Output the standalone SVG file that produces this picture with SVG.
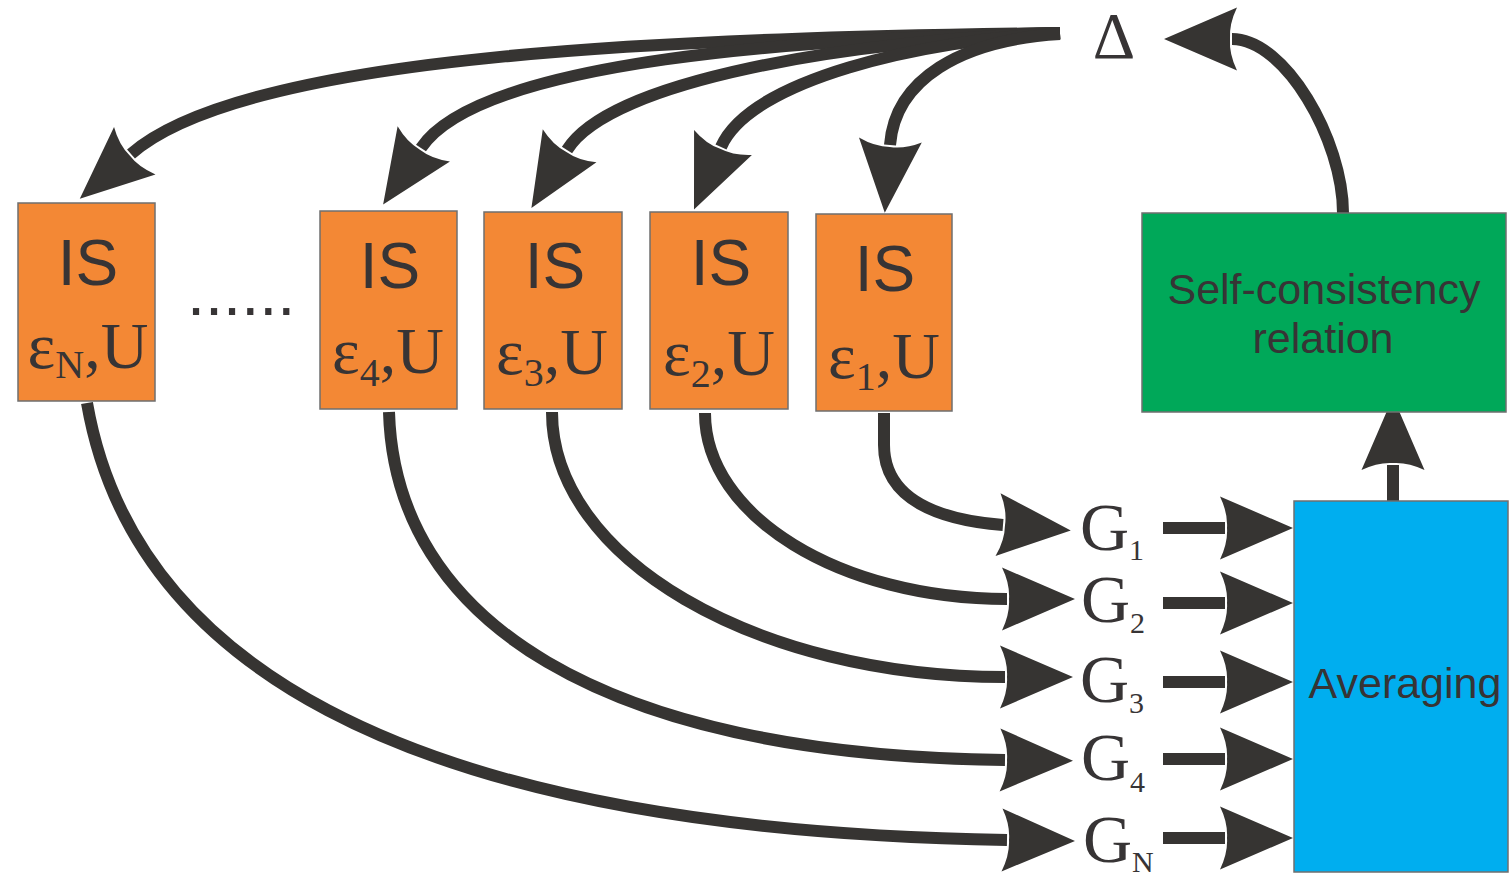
<svg xmlns="http://www.w3.org/2000/svg" width="1509" height="875" viewBox="0 0 1509 875">
<style>
.box{stroke:#6f6f6f;stroke-width:1.5}
.or{fill:#F38835}
.gr{fill:#00A859}
.bl{fill:#00AEEF}
.ar{fill:none;stroke:#363432;stroke-width:12;marker-end:url(#ah)}
.is{font-family:"Liberation Sans",Arial,sans-serif;font-size:64px;fill:#373435;text-anchor:middle}
.eps{font-family:"Liberation Serif","Times New Roman",serif;font-size:66px;fill:#373435;text-anchor:middle}
.sub{font-size:40px}
.g{font-family:"Liberation Serif","Times New Roman",serif;font-size:68px;fill:#373435}
.gs{font-size:30px}
.lbl{font-family:"Liberation Sans",Arial,sans-serif;fill:#373435;text-anchor:middle}
</style>
<defs>
<marker id="ah" markerUnits="userSpaceOnUse" viewBox="0 -32 86 64" markerWidth="86" markerHeight="64" refX="16" refY="0" orient="auto" overflow="visible">
<path d="M84,0 L11,-31.5 Q19,-15 18,0 Q19,15 11,31.5 Z" fill="#363432"/>
</marker>
</defs>
<rect width="1509" height="875" fill="#fff"/>
<g id="connectors">
<path class="ar" d="M1060,33 C700,38 250,50 131,154"/>
<path class="ar" d="M1060,33 C800,38 480,60 421,148"/>
<path class="ar" d="M1060,33 C850,40 610,80 567,150"/>
<path class="ar" d="M1060,33 C920,40 750,80 721,147"/>
<path class="ar" d="M1060,34 C960,40 895,80 890,145"/>
<path class="ar" d="M87,403 C130,650 380,830 1007,840"/>
<path class="ar" d="M389,412 C395,620 600,755 1005,760"/>
<path class="ar" d="M552,412 C552,558 755,677 1005,677"/>
<path class="ar" d="M705,413 C705,516 840,599 1007,599"/>
<path class="ar" d="M884,413 L884,445 C884,500 940,520 1003,525"/>
<path class="ar" d="M1163,528 L1225,528"/>
<path class="ar" d="M1163,603 L1225,603"/>
<path class="ar" d="M1163,682 L1225,682"/>
<path class="ar" d="M1163,759 L1225,759"/>
<path class="ar" d="M1163,838 L1225,838"/>
<path class="ar" d="M1393,501 L1393,465"/>
<path class="ar" d="M1343,213 C1343,140 1285,39 1232,39"/>
</g>
<g id="is-n">
<rect class="box or" x="18" y="203" width="137" height="198"/>
<text class="is" x="88" y="285">IS</text>
<text class="eps" x="88" y="368">ε<tspan class="sub" font-size="38" dy="10">N</tspan><tspan dy="-10">,U</tspan></text>
</g>
<g id="dots">
<text x="187" y="315" font-family="Liberation Sans, Arial, sans-serif" font-size="65" fill="#373435">......</text>
</g>
<g id="is-4">
<rect class="box or" x="320" y="211" width="137" height="198"/>
<text class="is" x="390" y="288">IS</text>
<text class="eps" x="388" y="373">ε<tspan class="sub" dy="13">4</tspan><tspan dy="-13">,U</tspan></text>
</g>
<g id="is-3">
<rect class="box or" x="484" y="212" width="138" height="197"/>
<text class="is" x="555" y="288">IS</text>
<text class="eps" x="552" y="374">ε<tspan class="sub" dy="12">3</tspan><tspan dy="-12">,U</tspan></text>
</g>
<g id="is-2">
<rect class="box or" x="650" y="212" width="138" height="197"/>
<text class="is" x="721" y="285">IS</text>
<text class="eps" x="719" y="375">ε<tspan class="sub" dy="12">2</tspan><tspan dy="-12">,U</tspan></text>
</g>
<g id="is-1">
<rect class="box or" x="816" y="214" width="136" height="197"/>
<text class="is" x="885" y="291">IS</text>
<text class="eps" x="884" y="378">ε<tspan class="sub" dy="12">1</tspan><tspan dy="-12">,U</tspan></text>
</g>
<g id="delta">
<text x="1114" y="58" font-family="Liberation Serif, Times New Roman, serif" font-size="66" fill="#373435" text-anchor="middle">Δ</text>
</g>
<g id="self-consistency">
<rect class="box gr" x="1142" y="213" width="364" height="199"/>
<text class="lbl" x="1324" y="304" font-size="43">Self-consistency</text>
<text class="lbl" x="1323" y="353" font-size="43">relation</text>
</g>
<g id="averaging">
<rect class="box bl" x="1294" y="501" width="214" height="371"/>
<text class="lbl" x="1405" y="698" font-size="43">Averaging</text>
</g>
<g id="g1"><text class="g" x="1080" y="550">G<tspan class="gs" dy="10">1</tspan></text></g>
<g id="g2"><text class="g" x="1081" y="622">G<tspan class="gs" dy="11">2</tspan></text></g>
<g id="g3"><text class="g" x="1080" y="702">G<tspan class="gs" dy="11">3</tspan></text></g>
<g id="g4"><text class="g" x="1081" y="780">G<tspan class="gs" dy="12">4</tspan></text></g>
<g id="gn"><text class="g" x="1083" y="862">G<tspan class="gs" font-size="32" dy="10">N</tspan></text></g>
</svg>
